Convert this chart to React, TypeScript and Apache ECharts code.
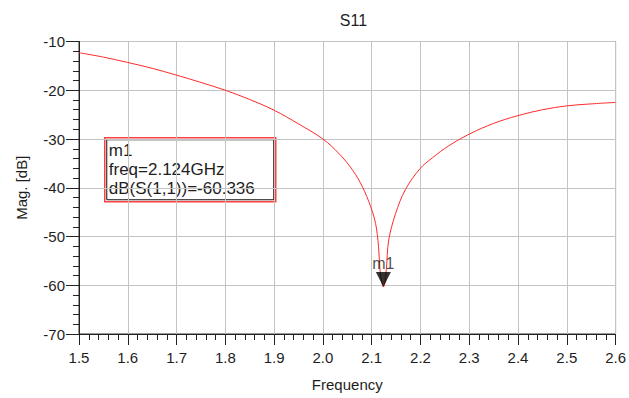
import React, { useEffect, useRef } from "react";
import * as echarts from "echarts";

const freqGHz = [
  1.5, 1.55, 1.6, 1.65, 1.7, 1.75, 1.8, 1.85, 1.9, 1.95, 2.0, 2.034, 2.061, 2.081,
  2.098, 2.108, 2.114, 2.117, 2.121, 2.124, 2.127, 2.13, 2.135, 2.149, 2.169, 2.199,
  2.224, 2.258, 2.3, 2.35, 2.4, 2.45, 2.5, 2.55, 2.6,
];
const s11Db = [
  -12.3, -13.2, -14.3, -15.5, -16.9, -18.4, -20.0, -21.9, -24.1, -26.9, -30.0, -33.1,
  -36.4, -39.8, -43.9, -47.3, -52.0, -56.8, -59.5, -60.336, -59.5, -56.8, -50.7, -45.3,
  -40.4, -36.1, -33.9, -31.4, -29.0, -26.8, -25.2, -24.0, -23.2, -22.8, -22.5,
];
const markerName = "m1";
const markerFreq = 2.124;
const markerDb = -60.336;

const FONT = "'Liberation Sans', Arial, sans-serif";
const TXT = "#1e1e1e";

export default function App() {
  const ref = useRef<HTMLDivElement>(null);
  useEffect(() => {
    if (!ref.current) return;
    const chart = echarts.init(ref.current, undefined, { renderer: "svg" });
    const gl = 79, gr = 11, gt = 41.5, gb = 64;
    const plotCx = (gl + (629 - gr)) / 2;
    const boxX = 104, boxY = 137, boxW = 171, boxH = 64;
    chart.setOption({
      animation: false,
      backgroundColor: "#fff",
      textStyle: { fontFamily: FONT },
      title: {
        text: "S11",
        left: plotCx,
        textAlign: "center",
        top: 7,
        textStyle: { fontSize: 16, fontWeight: "normal", color: TXT, fontFamily: FONT },
      },
      grid: {
        left: gl,
        right: gr,
        top: gt,
        bottom: gb,
        show: true,
        borderColor: "#333",
        borderWidth: 1,
        backgroundColor: "#fff",
      },
      xAxis: {
        type: "value",
        min: 1.5,
        max: 2.6,
        interval: 0.1,
        name: "Frequency",
        nameLocation: "middle",
        nameGap: 43,
        nameTextStyle: { fontSize: 15, color: TXT, fontFamily: FONT },
        axisLine: { show: true, lineStyle: { color: "#222", width: 1 } },
        axisTick: { show: true, length: 11, lineStyle: { color: "#222" } },
        minorTick: { show: true, splitNumber: 5, length: 6, lineStyle: { color: "#222" } },
        splitLine: { show: true, lineStyle: { color: "#c4c4c4", width: 1 } },
        axisLabel: {
          margin: 16,
          fontSize: 15,
          color: TXT,
          fontFamily: FONT,
          formatter: (v: number) => v.toFixed(1),
        },
      },
      yAxis: {
        type: "value",
        min: -70,
        max: -10,
        interval: 10,
        name: "Mag. [dB]",
        nameLocation: "middle",
        nameGap: 50,
        nameRotate: 90,
        nameTextStyle: { fontSize: 15, color: TXT, fontFamily: FONT },
        axisLine: { show: true, lineStyle: { color: "#222", width: 1 } },
        axisTick: { show: true, length: 13, lineStyle: { color: "#222" } },
        minorTick: { show: true, splitNumber: 5, length: 6, lineStyle: { color: "#222" } },
        splitLine: { show: true, lineStyle: { color: "#c4c4c4", width: 1 } },
        axisLabel: { margin: 14, fontSize: 15, color: TXT, fontFamily: FONT },
      },
      series: [
        {
          type: "line",
          data: freqGHz.map((f, i) => [f, s11Db[i]]),
          showSymbol: false,
          symbol: "none",
          smooth: 0.35,
          lineStyle: { color: "#ff2a2a", width: 1 },
          z: 2,
        },
        {
          type: "scatter",
          data: [[markerFreq, markerDb]],
          symbol: "path://M0,0 L10,0 L5,10 Z",
          symbolSize: [15, 15],
          symbolOffset: [0, -7.5],
          itemStyle: { color: "#000" },
          label: {
            show: true,
            position: "top",
            distance: 0,
            formatter: markerName,
            fontSize: 16,
            color: TXT,
            fontFamily: FONT,
          },
          z: 5,
        },
      ],
      graphic: [
        {
          type: "group",
          left: boxX,
          top: boxY,
          z: 10,
          children: [
            {
              type: "rect",
              shape: { x: 0, y: 0, width: boxW, height: boxH },
              style: { fill: "#fff", stroke: "#ff4040", lineWidth: 1.5 },
            },
            {
              type: "rect",
              shape: { x: 2, y: 2, width: boxW - 4, height: boxH - 4 },
              style: { fill: "#fff", stroke: "#111", lineWidth: 1 },
            },
            {
              type: "text",
              x: 4,
              y: 4,
              style: { text: markerName, fontSize: 17, fontFamily: FONT, fill: TXT },
            },
            {
              type: "text",
              x: 4,
              y: 23,
              style: {
                text: "freq=" + markerFreq.toFixed(3) + "GHz",
                fontSize: 17,
                fontFamily: FONT,
                fill: TXT,
              },
            },
            {
              type: "text",
              x: 4,
              y: 42,
              style: {
                text: "dB(S(1,1))=" + markerDb.toFixed(3),
                fontSize: 17,
                fontFamily: FONT,
                fill: TXT,
              },
            },
          ],
        },
      ],
    });
    return () => chart.dispose();
  }, []);
  return (
    <div
      ref={ref}
      style={{ position: "fixed", left: 0, top: 0, width: 629, height: 398 }}
    />
  );
}
